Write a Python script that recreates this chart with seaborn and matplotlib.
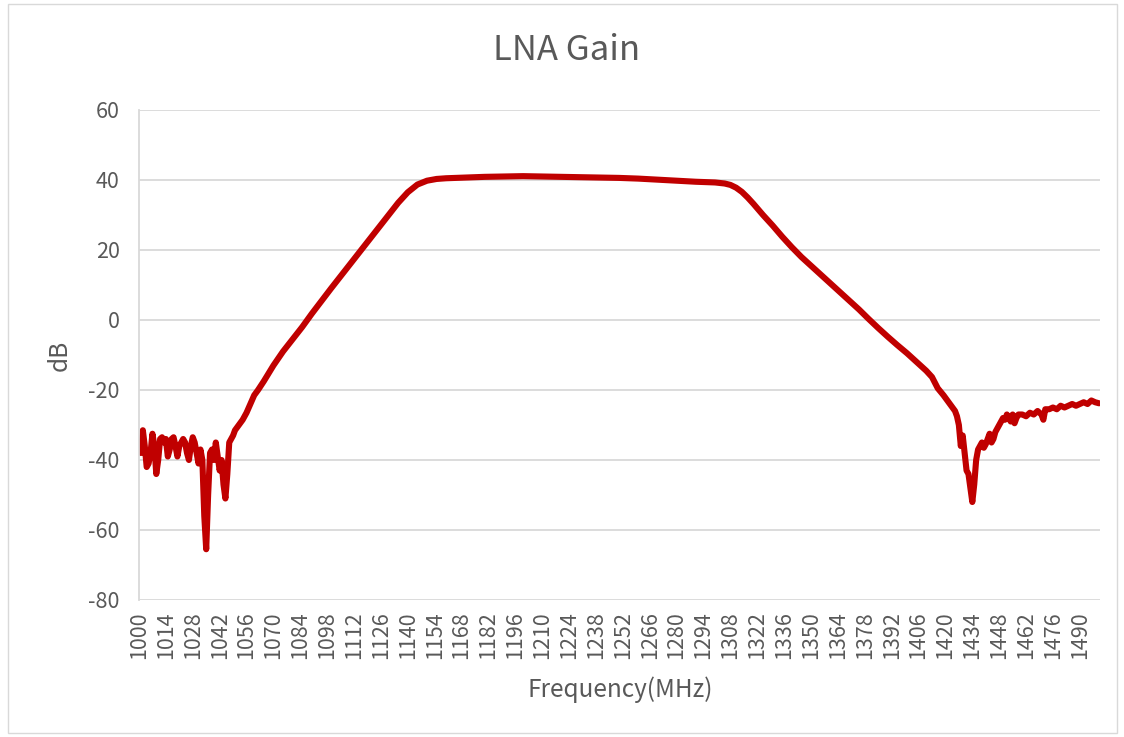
import matplotlib
matplotlib.use("Agg")
import matplotlib.pyplot as plt
import seaborn as sns
from matplotlib.patches import Rectangle

freq_mhz = [
    1000, 1001, 1002, 1003, 1004, 1005, 1006, 1007, 1008, 1009,
    1010, 1011, 1012, 1013, 1014, 1015, 1016, 1017, 1018, 1019,
    1020, 1021, 1022, 1023, 1024, 1025, 1026, 1027, 1028, 1029,
    1030, 1031, 1032, 1033, 1034, 1035, 1036, 1037, 1038, 1039,
    1040, 1041, 1042, 1043, 1044, 1045, 1046, 1047, 1048, 1049,
    1050, 1052, 1054, 1056, 1058, 1060, 1062, 1065, 1070, 1075,
    1080, 1085, 1090, 1095, 1100, 1105, 1110, 1115, 1120, 1125,
    1130, 1135, 1140, 1145, 1150, 1155, 1160, 1170, 1180, 1190,
    1200, 1210, 1220, 1230, 1240, 1250, 1260, 1270, 1280, 1290,
    1300, 1305, 1308, 1311, 1314, 1317, 1320, 1325, 1330, 1335,
    1340, 1345, 1350, 1355, 1360, 1365, 1370, 1375, 1380, 1385,
    1390, 1395, 1400, 1405, 1410, 1413, 1416, 1419, 1421, 1423,
    1425, 1426, 1427, 1428, 1429, 1430, 1431, 1432, 1433, 1434,
    1435, 1436, 1437, 1438, 1439, 1440, 1441, 1442, 1443, 1444,
    1445, 1446, 1447, 1448, 1449, 1450, 1451, 1452, 1453, 1454,
    1455, 1456, 1457, 1458, 1460, 1462, 1464, 1466, 1468, 1470,
    1471, 1472, 1474, 1476, 1478, 1480, 1482, 1484, 1486, 1488,
    1490, 1492, 1494, 1496, 1498, 1500,
]
gain_db = [
    -35, -38, -31.5, -36, -42, -41, -38, -32.5, -36, -44,
    -40, -34, -33.5, -35, -34, -39, -37, -34, -33.5, -36,
    -39, -36, -35, -34, -35, -38, -40, -36, -33.5, -35,
    -38, -41, -37, -40, -56, -65.5, -50, -38, -37, -40,
    -35, -39, -43, -40, -47, -51, -44, -35, -34, -33,
    -31.5, -30, -28.5, -26.5, -24, -21.5, -20, -17.5, -13, -9,
    -5.5, -2, 1.8, 5.4, 9, 12.5, 16, 19.5, 23, 26.5,
    30, 33.5, 36.5, 38.7, 39.8, 40.3, 40.5, 40.7, 40.9, 41,
    41.1, 41, 40.9, 40.8, 40.7, 40.6, 40.4, 40.1, 39.8, 39.5,
    39.3, 39, 38.6, 37.8, 36.6, 35, 33.2, 30, 27, 23.8,
    20.8, 18, 15.5, 13, 10.5, 8, 5.5, 3, 0.3, -2.3,
    -4.8, -7.2, -9.5, -12, -14.5, -16.3, -19.5, -21.5, -23, -24.5,
    -26, -27.5, -30, -36, -33, -38, -43, -44, -48, -52,
    -47, -40, -37, -36, -35, -36.5, -35.5, -34, -32.5, -35,
    -34, -32, -31, -30, -29, -28, -28.5, -27, -28, -29,
    -27, -29.5, -28, -27, -27, -27.5, -26.5, -27, -26, -27,
    -28.5, -25.5, -25.5, -25, -25.5, -24.5, -25, -24.5, -24, -24.5,
    -24, -23.5, -24, -23, -23.5, -23.8,
]
x_ticks = list(range(1000, 1491, 14))
y_ticks = [-80, -60, -40, -20, 0, 20, 40, 60]

title = "LNA Gain"
x_label = "Frequency(MHz)"
y_label = "dB"

sns.set_theme(style="white")
plt.rcParams["font.family"] = ["Noto Sans CJK SC", "DejaVu Sans"]

text_color = "#595959"
grid_color = "#D9D9D9"

fig = plt.figure(figsize=(11.24, 7.37), dpi=100)
ax = fig.add_axes([139 / 1124, 1 - 600 / 737, (1100 - 139) / 1124, (600 - 110) / 737])

sns.lineplot(x=freq_mhz, y=gain_db, ax=ax, color="#C00000", linewidth=4.4,
             estimator=None, sort=False)

ax.set_xlim(1000, 1500.5)
ax.set_ylim(-80, 60)
ax.set_xticks(x_ticks)
ax.set_xticklabels([str(t) for t in x_ticks], rotation=90)
ax.set_yticks(y_ticks)
ax.set_yticklabels([str(t) for t in y_ticks])
ax.tick_params(axis="x", length=0, pad=8, labelsize=15.5, colors=text_color)
ax.tick_params(axis="y", length=0, pad=14, labelsize=15.5, colors=text_color)

ax.grid(axis="y", color=grid_color, linewidth=1.3)
ax.set_axisbelow(True)
for side in ["top", "right", "bottom"]:
    ax.spines[side].set_visible(False)
ax.spines["left"].set_color(grid_color)
ax.spines["left"].set_linewidth(1.3)

ax.set_xlabel("")
ax.set_ylabel("")
fig.text(567 / 1124, 1 - 50 / 737, title, ha="center", va="center", fontsize=25, color=text_color)
fig.text(620 / 1124, 1 - 690 / 737, x_label, ha="center", va="center", fontsize=17.5, color=text_color)
fig.text(60 / 1124, 1 - 355 / 737, y_label, ha="center", va="center", fontsize=17.5,
         color=text_color, rotation=90)

fig.patches.append(Rectangle((8 / 1124, 4 / 737), 1109 / 1124, 729 / 737,
                             transform=fig.transFigure, fill=False,
                             edgecolor="#D9D9D9", linewidth=1.0))

fig.savefig("out.png", dpi=100)
